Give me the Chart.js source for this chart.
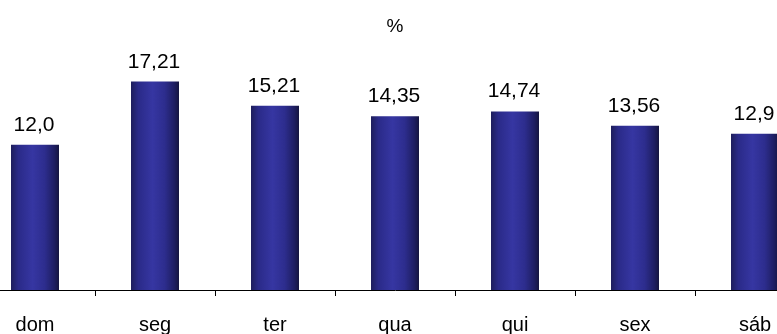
<!DOCTYPE html>
<html>
<head>
<meta charset="utf-8">
<script src="https://cdn.jsdelivr.net/npm/chart.js@4.4.0/dist/chart.umd.min.js"></script>
<style>
  html, body { margin: 0; padding: 0; background: #fff; }
  #wrap { position: relative; width: 777px; height: 334px; overflow: hidden; }
  #chart { position: absolute; left: -25px; top: 0; }
</style>
</head>
<body>
<div id="wrap"><canvas id="chart" width="840" height="354"></canvas></div>
<script>
const days = ["dom", "seg", "ter", "qua", "qui", "sex", "sáb"];
const percent = [12.0, 17.21, 15.21, 14.35, 14.74, 13.56, 12.9];
const percentLabels = ["12,0", "17,21", "15,21", "14,35", "14,74", "13,56", "12,9"];

const CAT_PCT = 0.5, BAR_PCT = 0.8;

// dark-light-dark shading across each bar
function barShade(c) {
  const xs = c.chart.scales.x;
  if (!xs || !xs.width) return "#2a2a86";
  const cx = xs.getPixelForValue(c.dataIndex);
  const half = (xs.width / days.length) * CAT_PCT * BAR_PCT / 2;
  const g = c.chart.ctx.createLinearGradient(cx - half, 0, cx + half, 0);
  g.addColorStop(0, "#1e1e5c");
  g.addColorStop(0.15, "#2a2a88");
  g.addColorStop(0.45, "#3636a2");
  g.addColorStop(0.7, "#2d2d8e");
  g.addColorStop(0.9, "#1e1e62");
  g.addColorStop(1, "#15153f");
  return g;
}

const valueLabels = {
  id: "valueLabels",
  afterDatasetsDraw(chart) {
    const ctx = chart.ctx;
    const meta = chart.getDatasetMeta(0);
    ctx.save();
    ctx.font = "21px 'Liberation Sans', Arial, sans-serif";
    ctx.fillStyle = "#000";
    ctx.textAlign = "center";
    ctx.textBaseline = "alphabetic";
    meta.data.forEach((bar, i) => {
      ctx.fillText(percentLabels[i], bar.x - 1, bar.y - 14);
    });
    ctx.restore();
  },
};

new Chart(document.getElementById("chart").getContext("2d"), {
  type: "bar",
  data: {
    labels: days,
    datasets: [{ data: percent, backgroundColor: barShade, barPercentage: BAR_PCT, categoryPercentage: CAT_PCT }],
  },
  options: {
    responsive: false,
    animation: false,
    layout: { padding: 0 },
    plugins: {
      legend: { display: false },
      tooltip: { enabled: false },
      title: {
        display: true,
        text: "%",
        color: "#000",
        font: { family: "'Liberation Sans', Arial, sans-serif", size: 19, weight: "normal" },
        padding: { top: 15, bottom: 10 },
      },
    },
    scales: {
      y: { display: false, min: 0, max: 20 },
      x: {
        border: { display: true, color: "#000", width: 1 },
        grid: { display: true, drawOnChartArea: false, drawTicks: true, tickLength: 6, color: "#000", offset: true },
        ticks: {
          color: "#000",
          padding: 17,
          font: { family: "'Liberation Sans', Arial, sans-serif", size: 20 },
        },
      },
    },
  },
  plugins: [valueLabels],
});
</script>
</body>
</html>
